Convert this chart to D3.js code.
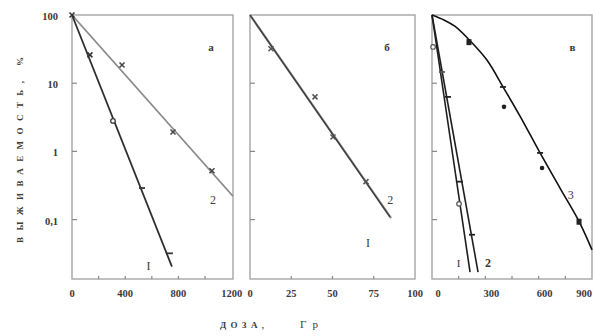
<!DOCTYPE html>
<html><head><meta charset="utf-8">
<script src="https://cdn.jsdelivr.net/npm/d3@7"></script>
<style>
html,body{margin:0;padding:0;background:#fff;}
svg{display:block;}
text{font-family:"Liberation Serif","DejaVu Serif",serif;fill:#3a3a3a;}
</style></head>
<body>
<svg id="c" width="593" height="336"></svg>
<script>
// ---- data ----
const yTickValues = [100, 10, 1, 0.1];
const yTickLabels = ["100", "10", "1", "0,1"];
const yTitle = "ВЫЖИВАЕМОСТЬ, %";
const xTitleA = "ДОЗА,";
const xTitleB = "Гр";

// panel а
const aXTicks = [200, 400, 600, 800, 1000];
const aXLabels = [0, 400, 800, 1200];
const aLine1Dose = [0, 751];
const aLine1Surv = [100, 0.0204];
const aLine2Dose = [0, 1210];
const aLine2Surv = [100, 0.22];
const aPts1Dose = [0, 135, 308, 526, 736];
const aPts1Surv = [100, 26, 2.8, 0.29, 0.032];
const aPts1Mark = ["x", "x", "o", "dash", "dash"];
const aPts2Dose = [376, 759, 1052];
const aPts2Surv = [18.5, 1.93, 0.52];
const aPts2Mark = ["x", "x", "x"];

// panel б
const bXTicks = [25, 50, 75];
const bXLabels = [0, 25, 50, 75, 100];
const bLine1Dose = [0, 84.8];
const bLine1Surv = [100, 0.11];
const bLine2Dose = [0, 85.5];
const bLine2Surv = [100, 0.105];
const bPtsDose = [12.7, 39.4, 50.3, 70.3];
const bPtsSurv = [32, 6.3, 1.63, 0.36];
const bPtsMark = ["x", "x", "x", "x"];

// panel в
const cXTicks = [150, 300, 450, 600, 750];
const cXLabels = [0, 300, 600, 900];
const cLine1Dose = [0, 214];
const cLine1Surv = [100, 0.017];
const cLine2Dose = [0, 259];
const cLine2Surv = [100, 0.017];
const cCurve3Dose = [0, 70, 130, 210, 308, 401, 495, 608, 720, 829, 900];
const cCurve3Surv = [100, 84, 68, 43, 22, 8.7, 3.3, 0.95, 0.29, 0.092, 0.036];
const cPts3Dose = [208, 399, 405, 608, 619, 827];
const cPts3Surv = [40, 8.8, 4.5, 0.95, 0.57, 0.093];
const cPts3Mark = ["sq", "dash", "dot", "dash", "dot", "sq"];
const cPts1Dose = [6, 56, 152];
const cPts1Surv = [34, 14.6, 0.17];
const cPts1Mark = ["o", "dash", "o"];
const cPts2Dose = [90, 157, 225];
const cPts2Surv = [6.3, 0.36, 0.06];
const cPts2Mark = ["dash", "dash", "dash"];

// ---- layout ----
const svg = d3.select("#c");
const plotTop = 15, plotBottom = 279;
const y = d3.scaleLog().domain([0.01345, 100]).range([plotBottom, plotTop]);

function panel(cfg) {
  const x = d3.scaleLinear().domain([0, cfg.xMax]).range([cfg.x0, cfg.x1]);
  const g = svg.append("g");
  g.append("rect").attr("x", cfg.x0).attr("y", plotTop)
    .attr("width", cfg.x1 - cfg.x0).attr("height", plotBottom - plotTop)
    .attr("fill", "none").attr("stroke", "#a8a4a4").attr("stroke-width", 1.4);
  yTickValues.slice(1).forEach(v => {
    g.append("line").attr("x1", cfg.x0).attr("x2", cfg.x0 + 5)
      .attr("y1", y(v)).attr("y2", y(v)).attr("stroke", "#888").attr("stroke-width", 1.2);
  });
  cfg.xTicks.forEach(v => {
    g.append("line").attr("x1", x(v)).attr("x2", x(v))
      .attr("y1", plotBottom).attr("y2", plotBottom - 3).attr("stroke", "#888").attr("stroke-width", 1.2);
  });
  cfg.xLabels.forEach(v => {
    const t = g.append("text").attr("x", x(v) + (cfg.labelDx || 0)).attr("y", 297)
      .attr("text-anchor", "middle").attr("font-size", 10.5).attr("font-weight", "bold")
      .attr("fill", "#555").text(v);
    const bb = t.node().getBBox();
    if (bb.x + bb.width > 592) t.attr("text-anchor", "end").attr("x", 592);
  });
  const line = d3.line().x(d => x(d[0])).y(d => y(d[1]));
  cfg.lines.forEach(L => {
    const data = L.dose.map((d, i) => [d, L.surv[i]]);
    g.append("path").attr("d", line.curve(L.curve || d3.curveLinear)(data))
      .attr("fill", "none").attr("stroke", L.color).attr("stroke-width", L.width || 1.6);
  });
  cfg.points.forEach(P => {
    P.dose.forEach((d, i) => {
      const px = x(d), py = y(P.surv[i]), m = P.mark[i];
      if (m === "x") {
        g.append("path").attr("d", `M${px-2.5},${py-2.5}L${px+2.5},${py+2.5}M${px-2.5},${py+2.5}L${px+2.5},${py-2.5}`)
          .attr("stroke", P.color).attr("stroke-width", 1.5);
      } else if (m === "o") {
        g.append("circle").attr("cx", px).attr("cy", py).attr("r", 2.3)
          .attr("fill", "#fff").attr("stroke", P.color).attr("stroke-width", 1.2);
      } else if (m === "dash") {
        g.append("path").attr("d", `M${px-3},${py}L${px+3},${py}`)
          .attr("stroke", P.color).attr("stroke-width", 1.8);
      } else if (m === "dot") {
        g.append("circle").attr("cx", px).attr("cy", py).attr("r", 2.3).attr("fill", P.color);
      } else if (m === "sq") {
        g.append("rect").attr("x", px - 2.5).attr("y", py - 3).attr("width", 5).attr("height", 6)
          .attr("fill", P.color);
      }
    });
  });
  cfg.labels.forEach(t => {
    g.append("text").attr("x", x(t.d)).attr("y", y(t.s)).attr("text-anchor", "middle")
      .attr("font-size", t.size || 11).attr("font-weight", t.bold ? "bold" : "normal")
      .attr("font-family", t.sans ? "Liberation Sans, Arial, sans-serif" : null)
      .attr("fill", t.color || "#444").text(t.text);
  });
  return x;
}

panel({
  x0: 72, x1: 233, xMax: 1210, xTicks: aXTicks, xLabels: aXLabels,
  lines: [
    {dose: aLine2Dose, surv: aLine2Surv, color: "#8a8a8a", width: 1.8},
    {dose: aLine1Dose, surv: aLine1Surv, color: "#2e2e2e", width: 1.8}
  ],
  points: [
    {dose: aPts1Dose, surv: aPts1Surv, mark: aPts1Mark, color: "#333"},
    {dose: aPts2Dose, surv: aPts2Surv, mark: aPts2Mark, color: "#444"}
  ],
  labels: [
    {text: "I", d: 575, s: 0.018, size: 12},
    {text: "2", d: 1060, s: 0.17, size: 12, color: "#777"},
    {text: "а", d: 1045, s: 30, size: 11, bold: true, color: "#555"}
  ]
});

panel({
  x0: 250, x1: 415, xMax: 100, xTicks: bXTicks, xLabels: bXLabels,
  lines: [
    {dose: bLine2Dose, surv: bLine2Surv, color: "#8a8a8a", width: 2.2},
    {dose: bLine1Dose, surv: bLine1Surv, color: "#3a3a3a", width: 1.3}
  ],
  points: [
    {dose: bPtsDose, surv: bPtsSurv, mark: bPtsMark, color: "#555"}
  ],
  labels: [
    {text: "2", d: 85, s: 0.17, size: 12, color: "#666"},
    {text: "I", d: 71.5, s: 0.04, size: 12, color: "#555"},
    {text: "б", d: 83, s: 30, size: 11, bold: true, color: "#555"}
  ]
});

panel({
  x0: 432, x1: 592, xMax: 900, xTicks: cXTicks, xLabels: cXLabels, labelDx: 6,
  lines: [
    {dose: cLine1Dose, surv: cLine1Surv, color: "#1e1e1e", width: 1.6},
    {dose: cLine2Dose, surv: cLine2Surv, color: "#1e1e1e", width: 1.6},
    {dose: cCurve3Dose, surv: cCurve3Surv, color: "#111", width: 1.6, curve: d3.curveCatmullRom.alpha(0.5)}
  ],
  points: [
    {dose: cPts1Dose, surv: cPts1Surv, mark: cPts1Mark, color: "#555"},
    {dose: cPts2Dose, surv: cPts2Surv, mark: cPts2Mark, color: "#222"},
    {dose: cPts3Dose, surv: cPts3Surv, mark: cPts3Mark, color: "#222"}
  ],
  labels: [
    {text: "I", d: 150, s: 0.02, size: 11, color: "#666"},
    {text: "2", d: 315, s: 0.02, size: 12, bold: true, sans: true, color: "#222"},
    {text: "3", d: 780, s: 0.2, size: 12, sans: true, color: "#333"},
    {text: "в", d: 790, s: 30, size: 11, bold: true, color: "#555"}
  ]
});

yTickValues.forEach((v, i) => {
  svg.append("text").attr("x", 58).attr("y", y(v) + 5).attr("text-anchor", "end")
    .attr("font-size", 10.5).attr("font-weight", "bold").attr("fill", "#555").text(yTickLabels[i]);
});

svg.append("text").attr("transform", "translate(23,150) rotate(-90)")
  .attr("text-anchor", "middle").attr("font-size", 9).attr("font-weight", "bold")
  .attr("font-family", "DejaVu Sans Mono, monospace").attr("fill", "#666")
  .attr("textLength", 186).attr("lengthAdjust", "spacing").text(yTitle);

svg.append("text").attr("x", 220).attr("y", 328).attr("font-size", 9).attr("font-weight", "bold")
  .attr("font-family", "DejaVu Sans Mono, monospace").attr("fill", "#666")
  .attr("textLength", 44).attr("lengthAdjust", "spacing").text(xTitleA);
svg.append("text").attr("x", 300).attr("y", 328).attr("font-size", 11)
  .attr("fill", "#666").attr("textLength", 18).attr("lengthAdjust", "spacing").text(xTitleB);
</script>
</body></html>
